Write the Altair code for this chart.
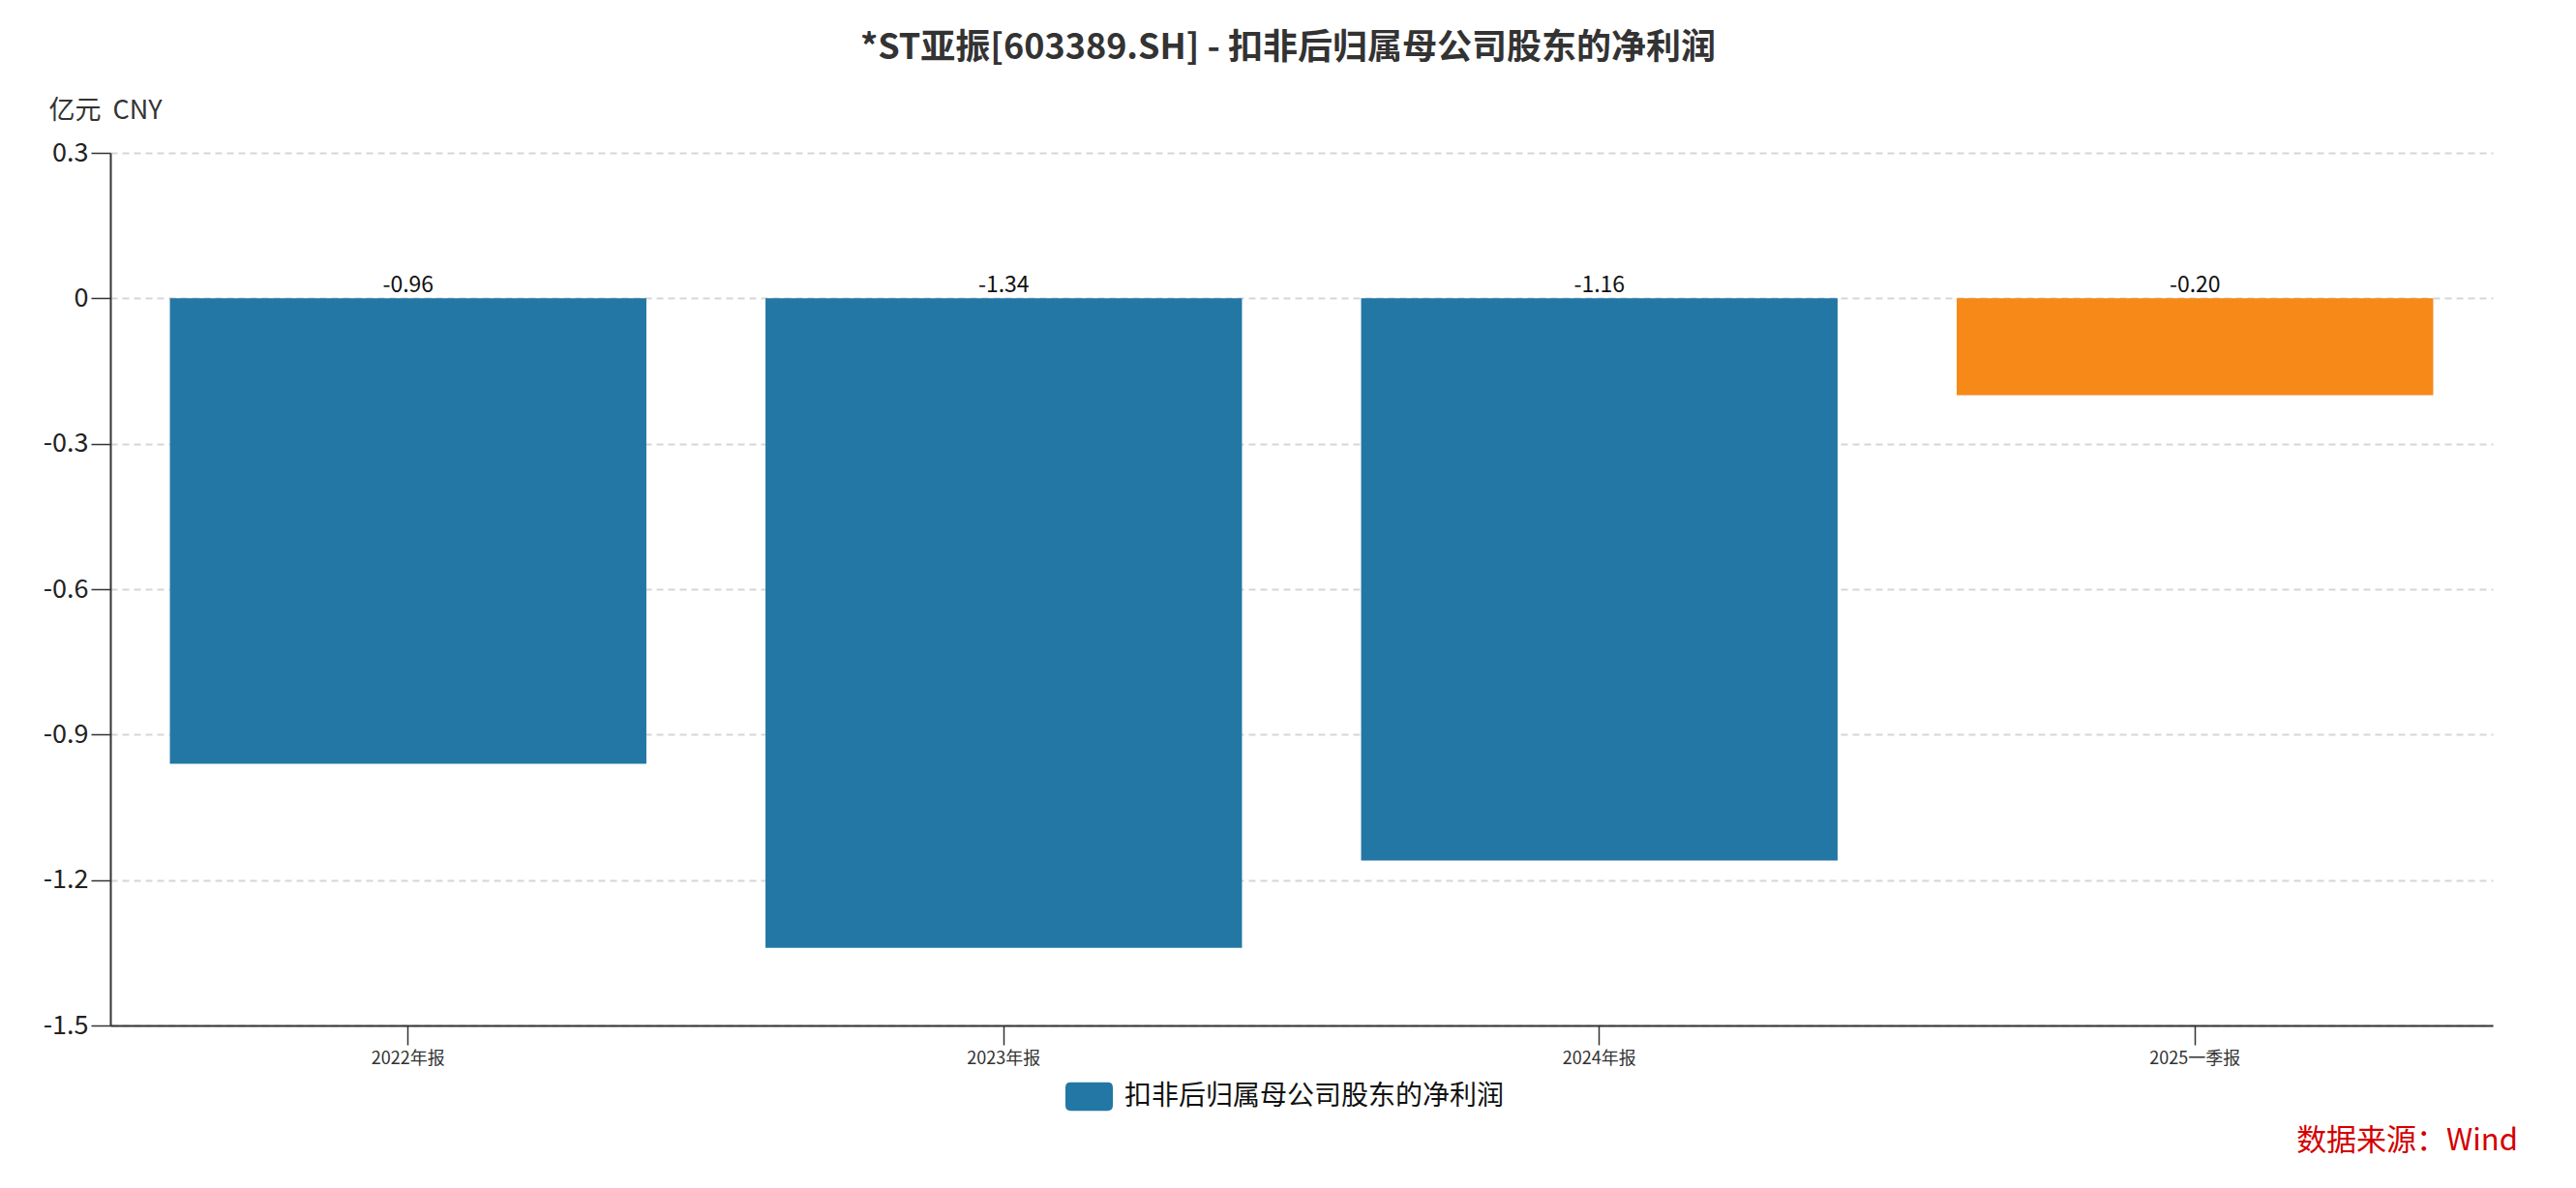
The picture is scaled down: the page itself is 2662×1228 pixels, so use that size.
import altair as alt
import pandas as pd

# values (亿元 CNY)
periods = ["2022年报", "2023年报", "2024年报", "2025一季报"]
values = [-0.96, -1.34, -1.16, -0.20]
series_name = "扣非后归属母公司股东的净利润"
y_ticks = [0.3, 0, -0.3, -0.6, -0.9, -1.2, -1.5]

title_text = "*ST亚振[603389.SH] - 扣非后归属母公司股东的净利润"
unit_text = "亿元\u00a0\u00a0CNY"
source_text = "数据来源：Wind"

BLUE = "#2377A4"
ORANGE = "#F68918"
FONT = "Noto Sans CJK SC"

W, H = 2462, 902

# rounded rectangle legend swatch, path in the [-1, 1] unit box
SWATCH = (
    "M-0.78,-0.6 L0.78,-0.6 Q1,-0.6 1,-0.38 L1,0.38 Q1,0.6 0.78,0.6 "
    "L-0.78,0.6 Q-1,0.6 -1,0.38 L-1,-0.38 Q-1,-0.6 -0.78,-0.6 Z"
)

df = pd.DataFrame(
    {
        "period": periods,
        "value": values,
        "series": [series_name] * len(periods),
        "label": [f"{v:.2f}" for v in values],
    }
)

x_enc = alt.X(
    "period:N",
    sort=periods,
    title=None,
    scale=alt.Scale(paddingInner=0.2, paddingOuter=0.1),
    axis=alt.Axis(
        labelAngle=0,
        labelFontSize=18,
        labelColor="#333333",
        labelPadding=5,
        tickSize=20,
        tickColor="#333333",
        tickWidth=1.5,
        domainColor="#333333",
        domainWidth=2,
        grid=False,
    ),
)

bars = (
    alt.Chart(df)
    .mark_bar()
    .encode(
        x=x_enc,
        y=alt.Y(
            "value:Q",
            scale=alt.Scale(domain=[-1.5, 0.3], nice=False, zero=False),
            axis=alt.Axis(
                values=y_ticks,
                labelExpr="'' + datum.value",
                labelFontSize=27,
                labelColor="#222222",
                labelPadding=3,
                tickSize=20,
                tickColor="#333333",
                tickWidth=1.5,
                domainColor="#333333",
                domainWidth=2,
                gridColor="#D6D6D6",
                gridDash=[7, 5],
                gridWidth=2,
                title=unit_text,
                titleAngle=0,
                titleAlign="left",
                titleBaseline="middle",
                titleX=-64,
                titleY=-44,
                titleFontSize=27,
                titleFontWeight="normal",
                titleColor="#333333",
            ),
        ),
        color=alt.condition(
            alt.datum.period == "2025一季报",
            alt.value(ORANGE),
            alt.Color(
                "series:N",
                scale=alt.Scale(domain=[series_name], range=[BLUE]),
                legend=alt.Legend(
                    title=None,
                    orient="none",
                    legendX=987,
                    legendY=951,
                    padding=0,
                    symbolType=SWATCH,
                    symbolSize=2401,
                    symbolStrokeWidth=0,
                    symbolOpacity=1,
                    labelFontSize=28,
                    labelColor="#111111",
                    labelOffset=12,
                    labelLimit=1000,
                ),
            ),
        ),
    )
)

labels = (
    alt.Chart(df)
    .mark_text(baseline="bottom", dy=-1, fontSize=23, color="#111111")
    .encode(x=alt.X("period:N", sort=periods), y=alt.datum(0), text="label:N")
)

source = (
    alt.Chart(pd.DataFrame({"t": [source_text]}))
    .mark_text(align="right", baseline="middle", fontSize=31, color="#D40000")
    .encode(x=alt.value(2488), y=alt.value(1022), text="t:N")
)

chart = (
    alt.layer(bars, labels, source)
    .properties(
        width=W,
        height=H,
        autosize=alt.AutoSizeParams(type="none"),
        padding={"left": 106, "top": 150, "right": 78, "bottom": 160},
        title=alt.TitleParams(
            title_text,
            fontSize=36,
            fontWeight="bold",
            color="#333333",
            anchor="middle",
            frame="group",
            dx=-14,
            offset=31,
        ),
    )
    .configure(font=FONT)
    .configure_view(stroke=None)
)

chart.save("out.html", embed_options={"renderer": "svg", "actions": False})
